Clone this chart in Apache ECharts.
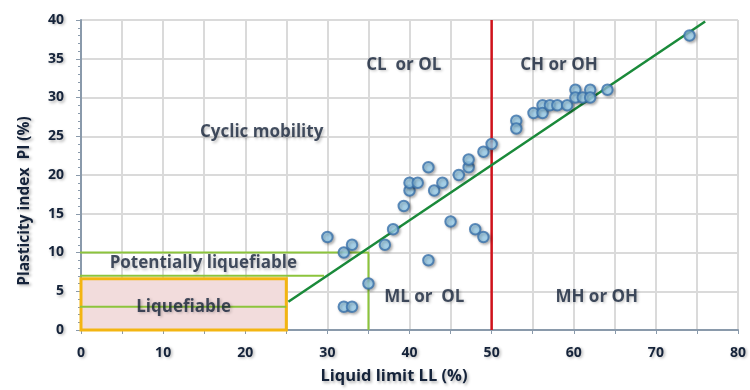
<!DOCTYPE html>
<html><head><meta charset="utf-8">
<script src="https://cdn.jsdelivr.net/npm/echarts@6/dist/echarts.min.js"></script>
<style>html,body{margin:0;padding:0;background:#fff}#c{width:750px;height:390px}</style>
</head><body><div id="c"></div>
<script>
// Data points (Liquid limit LL %, Plasticity index PI %)
const llValues = [30, 32, 33, 35, 32, 33, 37, 38, 39.3, 40, 40, 41, 42.3, 42.3, 43, 44, 45, 46, 47.2, 47.2, 48, 49, 49, 50,
  53, 53, 55.1, 56.2, 56.2, 57.1, 58, 59.2, 60.2, 60.2, 61.1, 62, 62, 64.1, 74.1];
const piValues = [12, 10, 11, 6, 3, 3, 11, 13, 16, 18, 19, 19, 21, 9, 18, 19, 14, 20, 21, 22, 13, 12, 23, 24,
  27, 26, 28, 29, 28, 29, 29, 29, 31, 30, 30, 31, 30, 31, 38];
// A-line end points
const aLineLL = [25.25, 76];
const aLinePI = [3.65, 39.8];
// Boundary LL = 50
const boundaryLL = 50;
// Liquefaction criteria lines
const critLine10 = [[-1.7, 10], [35, 10], [35, 0]];
const critLine7 = [[-2.8, 7], [29.6, 7]];
const critLine3 = [[-2.5, 3], [25, 3]];
const liquefiableBox = [0, 0, 25, 6.6];
// Zone labels
const zoneNames = ['Cyclic mobility', 'CL  or OL', 'CH or OH', 'ML or  OL', 'MH or OH', 'Potentially liquefiable', 'Liquefiable'];
const zoneLL = [22, 39.3, 58.2, 41.8, 62.8, 14.9, 12.5];
const zonePI = [25.5, 34.2, 34.2, 4.25, 4.25, 8.6, 3];
const xTicks = [0, 10, 20, 30, 40, 50, 60, 70, 80];

const font = 'Open Sans';
const txt = '#15233a';
const shadow = {textShadowColor: 'rgba(0,0,0,0.3)', textShadowBlur: 3, textShadowOffsetX: 1.5, textShadowOffsetY: 1.5};

const chart = echarts.init(document.getElementById('c'));
chart.setOption({
  animation: false,
  grid: {left: 81, right: 12, top: 20, bottom: 60},
  xAxis: {
    type: 'value', min: 0, max: 80, interval: 5,
    name: 'Liquid limit LL (%)', nameLocation: 'middle', nameGap: 38,
    nameTextStyle: Object.assign({fontFamily: font, fontWeight: 'bold', fontSize: 16.5, color: txt, padding: [0, 31, 0, 0]}, shadow),
    axisLine: {lineStyle: {color: '#8a9aab', width: 2}},
    axisTick: {show: true, inside: false, length: 4, lineStyle: {color: '#8a9aab'}},
    axisLabel: Object.assign({fontFamily: font, fontWeight: 'bold', fontSize: 14, color: txt, margin: 16,
      formatter: v => xTicks.includes(v) ? String(v) : ''}, shadow),
    splitLine: {show: true, lineStyle: {color: '#dadada', width: 2}}
  },
  yAxis: {
    type: 'value', min: 0, max: 40, interval: 5,
    name: 'Plasticity index  PI (%)', nameLocation: 'middle', nameGap: 48,
    nameTextStyle: Object.assign({fontFamily: font, fontWeight: 'bold', fontSize: 15.5, color: txt, padding: [0, 52, 0, 0]}, shadow),
    axisLine: {show: true, lineStyle: {color: '#8a9aab', width: 2}},
    axisTick: {show: true, length: 5, lineStyle: {color: '#8a9aab'}},
    minorTick: {show: true, splitNumber: 5, length: 3, lineStyle: {color: '#8a9aab'}},
    axisLabel: Object.assign({fontFamily: font, fontWeight: 'bold', fontSize: 14, color: txt, margin: 17}, shadow),
    splitLine: {show: true, lineStyle: {color: '#dadada', width: 2}}
  },
  series: [
    {
      type: 'line', data: [], z: 1,
      markArea: {silent: true,
        itemStyle: {color: '#f2dcdc', borderColor: '#f3b512', borderWidth: 3},
        data: [[{coord: [liquefiableBox[0], liquefiableBox[1]]}, {coord: [liquefiableBox[2], liquefiableBox[3]]}]]}
    },
    {type: 'line', data: critLine10, symbol: 'none', clip: false, z: 3, lineStyle: {color: '#8cc43c', width: 2}},
    {type: 'line', data: critLine7, symbol: 'none', clip: false, z: 3, lineStyle: {color: '#8cc43c', width: 2}},
    {type: 'line', data: critLine3, symbol: 'none', clip: false, z: 3, lineStyle: {color: '#8cc43c', width: 2}},
    {type: 'line', data: [[boundaryLL, 0], [boundaryLL, 40]], symbol: 'none', z: 3, lineStyle: {color: '#d0121b', width: 2.5}},
    {type: 'line', data: aLineLL.map((v, i) => [v, aLinePI[i]]), symbol: 'none', clip: false, z: 4, lineStyle: {color: '#1a8a3a', width: 2.5}},
    {
      type: 'scatter', z: 5, symbolSize: 10.5,
      data: llValues.map((v, i) => [v, piValues[i]]),
      itemStyle: {color: '#9fd4f2', borderColor: '#3a72ab', borderWidth: 2,
        shadowColor: 'rgba(0,0,0,0.35)', shadowBlur: 3, shadowOffsetX: 1.5, shadowOffsetY: 1.5}
    },
    {
      type: 'scatter', z: 6, symbolSize: 0, silent: true,
      data: zoneNames.map((n, i) => ({value: [zoneLL[i], zonePI[i]], name: n})),
      label: Object.assign({show: true, position: 'inside', formatter: p => p.name,
        fontFamily: font, fontWeight: 'bold', fontSize: 17, color: txt}, shadow)
    }
  ]
});
</script></body></html>
